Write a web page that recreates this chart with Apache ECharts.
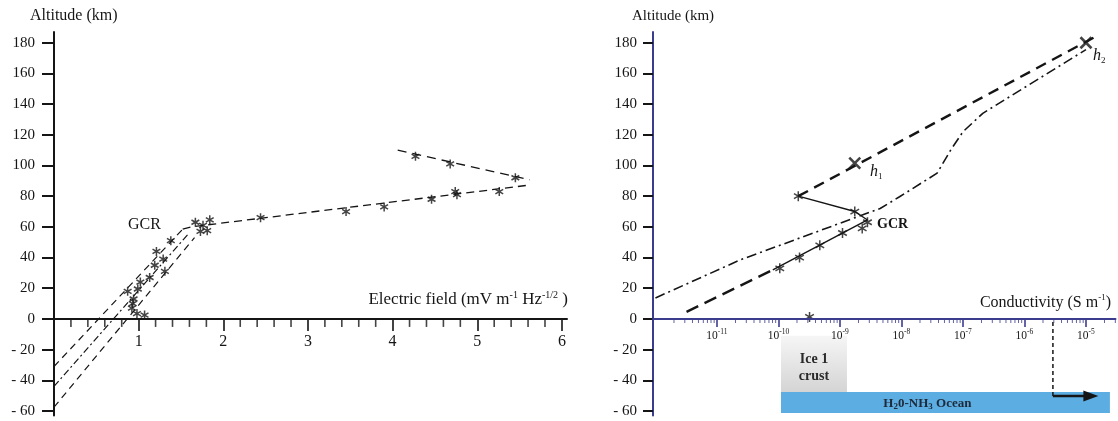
<!DOCTYPE html>
<html><head><meta charset="utf-8">
<script src="https://cdn.jsdelivr.net/npm/echarts@6/dist/echarts.min.js"></script>
<style>html,body{margin:0;padding:0;background:#fff}#c{width:1118px;height:421px}</style>
</head><body><div id="c"></div><script>
// ---------------- DATA ----------------
// Shared altitude axis (km)
const altTicks = [-60, -40, -20, 0, 20, 40, 60, 80, 100, 120, 140, 160, 180];

// Left panel: electric field (mV m^-1 Hz^-1/2) vs altitude (km)
const efTicks = [1, 2, 3, 4, 5, 6];
const efMinorTicks = [0.2,0.4,0.6,0.8,1.2,1.4,1.6,1.8,2.2,2.4,2.6,2.8,3.2,3.4,3.6,3.8,4.2,4.4,4.6,4.8,5.2,5.4,5.6,5.8];
const efStars = [
  [1.38,51],[1.21,44],[1.29,39],[1.19,35],[1.31,31],[1.13,27],[1.02,24],[0.99,19.5],[0.87,18],
  [0.94,13],[0.93,10],[0.92,7],[0.98,3.5],[1.07,2.5],
  [1.67,63],[1.76,61],[1.84,64.6],[1.73,57],[1.81,57.5],[2.44,66],
  [3.45,70],[3.9,73],[4.46,78],[4.76,81],[4.74,83],[5.26,83],
  [4.27,106],[4.68,101],[5.45,92]
];
const efLineA = [[0,-31],[1.52,58.5]];
const efLineB = [[0,-44],[1.58,55]];
const efLineC = [[0,-57.5],[1.66,53]];
const efBranchLow = [[1.52,58.5],[1.62,60],[5.58,87]];
const efBranchHigh = [[4.06,110],[5.62,90.7]];

// Right panel: conductivity (S m^-1) vs altitude (km)
const condDecades = [-11, -10, -9, -8, -7, -6, -5];
const condStars = [[2.1e-10,80],[1.74e-9,70],[2.8e-9,63],[2.3e-9,59],[1.1e-9,56],[4.7e-10,48],[2.2e-10,40],[1.05e-10,33],[3.2e-10,1.3]];
const condDashDot = [[1e-12,13.7],[2.4e-11,38.5],[4.5e-9,72],[9.3e-9,79.6],[3.8e-8,95],[6.3e-8,110],[1e-7,122],[2.1e-7,134],[1e-5,175.5]];
const condLowerDashed = [[3.2e-12,4.6],[8.1e-11,32]];
const condLowerSolid = [[8.1e-11,32],[2.8e-9,64.5]];
const condUpperSolid = [[2.8e-9,64.5],[1.74e-9,70],[2.1e-10,80]];
const condUpperDashed = [[2.1e-10,80],[1.6e-5,185]];
const condMarks = [[1.74e-9,101.5],[1e-5,180]];
const oceanOnsetDrop = [[2.9e-6,-2],[2.9e-6,-50.2]];
const oceanOnsetArrow = [[2.9e-6,-50.2],[1.2e-5,-50.2]];
const iceCrustBox = [1.1e-10, 1.3e-9, -11, -47.6];
const oceanBox = [1.1e-10, 2.45e-5, -47.6, -61.3];

// ---------------- CHART ----------------
const FONT = "'Liberation Serif','Times New Roman',serif";
const INK = '#151515';
const NAVY = '#3c3c8f';
const lg = v => Math.log10(v);
const toLog = pts => pts.map(p => [lg(p[0]), p[1]]);
const condMinorTicks = [];
for (let n = -12; n <= -5; n++) for (let k = 2; k <= 9; k++) {
  const v = n + Math.log10(k);
  if (v < -4.52) condMinorTicks.push(v);
}
const fmtAlt = v => v < 0 ? '- ' + (-v) : String(v);
const STAR = 'path://M0,-6L0,6M-5.2,-3L5.2,3M-5.2,3L5.2,-3';
const CROSS = 'path://M-5,-5L5,5M-5,5L5,-5';

const ALT_MIN = -63, ALT_MAX = 187;
const GRID_TOP = 32, GRID_H = 383.6;
// shift x axes up from the grid bottom to the altitude-zero line
const X_OFFSET = -GRID_H * (0 - ALT_MIN) / (ALT_MAX - ALT_MIN);

const chart = echarts.init(document.getElementById('c'), null, {renderer: 'canvas'});

function lineS(data, xi, yi, type, width) {
  return {type: 'line', xAxisIndex: xi, yAxisIndex: yi, data: data, symbol: 'none',
    silent: true, lineStyle: {color: INK, width: width, type: type}, z: 3};
}
function tickMarks(vals, xi, yi, len, color, w) {
  return {type: 'scatter', xAxisIndex: xi, yAxisIndex: yi, data: vals.map(v => [v, 0]),
    symbol: 'rect', symbolSize: [w, len], symbolOffset: [0, len / 2], silent: true, z: 6,
    itemStyle: {color: color}};
}
function boxItem(params, api) {
  const x0 = api.value(0), x1 = api.value(1), y0 = api.value(2), y1 = api.value(3);
  const p0 = api.coord([x0, y0]), p1 = api.coord([x1, y1]);
  const w = p1[0] - p0[0], h = p1[1] - p0[1];
  const isIce = params.dataIndex === 0;
  const children = [{
    type: 'rect', shape: {x: p0[0], y: p0[1], width: w, height: h},
    style: isIce ? {fill: new echarts.graphic.LinearGradient(0, 0, 0, 1, [
        {offset: 0, color: '#f6f6f6'}, {offset: 1, color: '#d4d4d4'}])}
      : {fill: '#5cade2'}
  }];
  if (isIce) {
    children.push({type: 'text', x: p0[0] + w / 2, y: p0[1] + h / 2 + 4,
      style: {text: 'Ice 1\ncrust', fontFamily: FONT, fontWeight: 'bold', fontSize: 14, lineHeight: 17,
        fill: '#2a2a2a', align: 'center', verticalAlign: 'middle'}});
  } else {
    children.push({type: 'text', x: p0[0] + w * 0.445, y: p0[1] + h / 2 + 1,
      style: {text: '{a|H}{s|2}{a|0-NH}{s|3}{a| Ocean}', fill: '#1e2a3a', align: 'center', verticalAlign: 'middle',
        rich: {a: {fontFamily: FONT, fontWeight: 'bold', fontSize: 13, lineHeight: 16, fill: '#1e2a3a'},
               s: {fontFamily: FONT, fontWeight: 'bold', fontSize: 9, lineHeight: 9, verticalAlign: 'bottom', fill: '#1e2a3a'}}}});
  }
  return {type: 'group', children: children};
}

const supRich = {
  n: {fontFamily: FONT, fontSize: 17, lineHeight: 20, color: INK, fill: INK},
  s: {fontFamily: FONT, fontSize: 10, lineHeight: 10, verticalAlign: 'top', color: INK, fill: INK}
};

const option = {
  animation: false,
  backgroundColor: '#fff',
  textStyle: {fontFamily: FONT},
  grid: [
    {left: 54, top: GRID_TOP, width: 513, height: GRID_H, outerBoundsMode: 'none', containLabel: false},
    {left: 653, top: GRID_TOP, width: 462.5, height: GRID_H, outerBoundsMode: 'none', containLabel: false}
  ],
  xAxis: [
    {gridIndex: 0, type: 'value', min: 0, max: 6.06, position: 'bottom', offset: X_OFFSET,
      axisLine: {show: true, onZero: false, lineStyle: {color: INK, width: 2}},
      axisTick: {show: true, customValues: efTicks, length: 12, lineStyle: {color: INK, width: 1.6}},
      axisLabel: {show: true, customValues: efTicks, fontSize: 16, fontFamily: FONT, color: INK, margin: 15},
      splitLine: {show: false}},
    {gridIndex: 1, type: 'value', min: -12.04, max: -4.52, position: 'bottom', offset: X_OFFSET, z: 10,
      axisLine: {show: true, onZero: false, lineStyle: {color: NAVY, width: 2}},
      axisTick: {show: true, customValues: condDecades, length: 8, lineStyle: {color: NAVY, width: 1.6}},
      axisLabel: {show: true, customValues: condDecades, margin: 9,
        formatter: v => '{b|10}{s|' + Math.round(v) + '}',
        rich: {b: {fontFamily: FONT, fontSize: 11.5, lineHeight: 16, color: INK},
               s: {fontFamily: FONT, fontSize: 7.5, lineHeight: 8, verticalAlign: 'top', color: INK}}},
      splitLine: {show: false}}
  ],
  yAxis: [0, 1].map(i => ({
    gridIndex: i, type: 'value', min: ALT_MIN, max: ALT_MAX,
    axisLine: {show: true, onZero: false, lineStyle: {color: i ? NAVY : INK, width: 2}},
    axisTick: {show: true, customValues: altTicks, length: i ? 10 : 12, lineStyle: {color: INK, width: 2}},
    axisLabel: {show: true, customValues: altTicks, formatter: fmtAlt, fontSize: 15, fontFamily: FONT,
      color: INK, margin: i ? 16 : 19},
    splitLine: {show: false}
  })),
  series: [
    // left panel
    tickMarks(efMinorTicks, 0, 0, 8, INK, 1.6),
    lineS(efLineA, 0, 0, [7, 5], 1.2),
    lineS(efLineB, 0, 0, [7, 3, 2, 3], 1.2),
    lineS(efLineC, 0, 0, [7, 5], 1.2),
    lineS(efBranchLow, 0, 0, [8, 5], 1.3),
    lineS(efBranchHigh, 0, 0, [9, 6], 1.3),
    {type: 'scatter', xAxisIndex: 0, yAxisIndex: 0, data: efStars, symbol: STAR, symbolSize: 9,
      symbolKeepAspect: true, silent: true, z: 4,
      itemStyle: {color: 'rgba(0,0,0,0)', borderColor: INK, borderWidth: 1.5}},
    // right panel
    tickMarks(condMinorTicks, 1, 1, 4, NAVY, 1),
    {type: 'custom', xAxisIndex: 1, yAxisIndex: 1, renderItem: boxItem, clip: false, silent: true, z: 1,
      data: [iceCrustBox, oceanBox].map(b => [lg(b[0]), lg(b[1]), b[2], b[3]])},
    lineS(toLog(condDashDot), 1, 1, [10, 4, 2, 4], 1.6),
    lineS(toLog(condLowerDashed), 1, 1, [13, 7], 2.4),
    lineS(toLog(condLowerSolid), 1, 1, 'solid', 1.4),
    lineS(toLog(condUpperSolid), 1, 1, 'solid', 1.4),
    lineS(toLog(condUpperDashed), 1, 1, [11, 7], 2.4),
    lineS(toLog(oceanOnsetDrop), 1, 1, [4, 3], 1.5),
    {type: 'line', xAxisIndex: 1, yAxisIndex: 1, silent: true, z: 5,
      lineStyle: {color: INK, width: 2.5}, itemStyle: {color: INK},
      data: toLog(oceanOnsetArrow).map((p, i) => i === 0 ? {value: p, symbol: 'none'}
        : {value: p, symbol: 'triangle', symbolSize: [11, 15], symbolRotate: -90})},
    {type: 'scatter', xAxisIndex: 1, yAxisIndex: 1, data: toLog(condStars), symbol: STAR, symbolSize: 10,
      symbolKeepAspect: true, silent: true, z: 4,
      itemStyle: {color: 'rgba(0,0,0,0)', borderColor: INK, borderWidth: 1.5}},
    {type: 'scatter', xAxisIndex: 1, yAxisIndex: 1, data: toLog(condMarks), symbol: CROSS, symbolSize: 11,
      silent: true, z: 5, itemStyle: {color: 'rgba(0,0,0,0)', borderColor: INK, borderWidth: 2.6}}
  ],
  graphic: [
    {type: 'text', x: 30, y: 16, style: {text: 'Altitude (km)', fontFamily: FONT, fontSize: 16, fill: INK, verticalAlign: 'middle', align: 'left'}},
    {type: 'text', x: 632, y: 16, style: {text: 'Altitude (km)', fontFamily: FONT, fontSize: 15, fill: INK, verticalAlign: 'middle', align: 'left'}},
    {type: 'text', x: 568, y: 300, style: {text: '{n|Electric field (mV m}{s|-1}{n| Hz}{s|-1/2}{n| )}', rich: supRich, align: 'right', verticalAlign: 'middle', fill: INK}},
    {type: 'text', x: 1111, y: 303, style: {text: '{n|Conductivity (S m}{s|-1}{n|)}', rich: {
      n: {fontFamily: FONT, fontSize: 16, lineHeight: 19, fill: INK}, s: {fontFamily: FONT, fontSize: 9, lineHeight: 9, verticalAlign: 'top', fill: INK}},
      align: 'right', verticalAlign: 'middle', fill: INK}},
    {type: 'text', x: 128, y: 225, style: {text: 'GCR', fontFamily: FONT, fontSize: 16, fill: INK, verticalAlign: 'middle', align: 'left'}},
    {type: 'text', x: 877, y: 224, style: {text: 'GCR', fontFamily: FONT, fontSize: 14, fontWeight: 'bold', fill: INK, verticalAlign: 'middle', align: 'left'}},
    {type: 'text', x: 870, y: 172, style: {text: '{h|h}{s|1}', align: 'left', verticalAlign: 'middle', rich: {
      h: {fontFamily: FONT, fontSize: 16, fontStyle: 'italic', lineHeight: 18, fill: INK},
      s: {fontFamily: FONT, fontSize: 9, lineHeight: 9, verticalAlign: 'bottom', fill: INK}}}},
    {type: 'text', x: 1093, y: 56, style: {text: '{h|h}{s|2}', align: 'left', verticalAlign: 'middle', rich: {
      h: {fontFamily: FONT, fontSize: 16, fontStyle: 'italic', lineHeight: 18, fill: INK},
      s: {fontFamily: FONT, fontSize: 9, lineHeight: 9, verticalAlign: 'bottom', fill: INK}}}}
  ]
};
chart.setOption(option);
</script></body></html>
